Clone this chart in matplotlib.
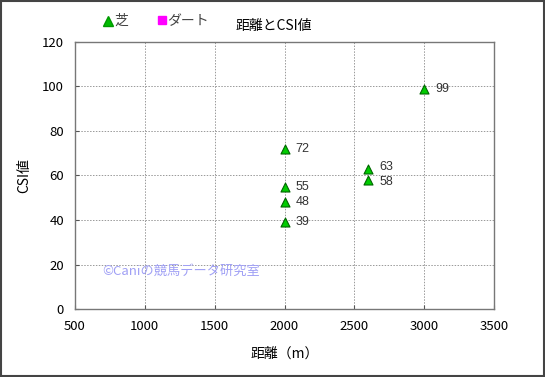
import matplotlib
matplotlib.use("Agg")
import matplotlib.pyplot as plt
from matplotlib.patches import Rectangle
from matplotlib.lines import Line2D

plt.rcParams['font.family'] = ['Noto Sans CJK JP', 'DejaVu Sans']

distance = [2000, 2000, 2000, 2000, 2600, 2600, 3000]
csi = [72, 55, 48, 39, 63, 58, 99]
labels = ["72", "55", "48", "39", "63", "58", "99"]
xticks = [500, 1000, 1500, 2000, 2500, 3000, 3500]
yticks = [0, 20, 40, 60, 80, 100, 120]

fig = plt.figure(figsize=(5.45, 3.77), dpi=100)
ax = fig.add_axes([0.1376, 0.180, 0.769, 0.709])

ax.scatter(distance, csi, marker='^', s=42, facecolor='#00cc00', edgecolor='#006600',
           linewidth=0.8, zorder=3, clip_on=False)
for i, (x, y, t) in enumerate(zip(distance, csi, labels)):
    dy = 0.0
    for j, (x2, y2) in enumerate(zip(distance, csi)):
        if j != i and x2 == x and abs(y2 - y) < 6:
            dy = 1.5 if y > y2 else -1.5
    ax.annotate(t, (x, y), xytext=(8, dy), textcoords='offset points', va='center',
                ha='left', fontsize=9, color='#333333', family=['Liberation Sans'])

ax.set_xlim(500, 3500)
ax.set_ylim(0, 120)
ax.set_xticks(xticks)
ax.set_yticks(yticks)
ax.grid(True, linestyle=(0, (1.5, 1.5)), color='#999999', linewidth=0.7)
ax.tick_params(length=3, labelsize=9.5, direction='in', colors='#555555', labelcolor='black')
ax.tick_params(axis='x', pad=8)
ax.tick_params(axis='y', pad=8)
for s in ax.spines.values():
    s.set_color('#777777')
    s.set_linewidth(1.0)
ax.set_xlabel('距離（m）', fontsize=10, labelpad=10)
ax.set_ylabel('CSI値', fontsize=10, labelpad=8)

ax.text(0.064, 0.14, '©Caniの競馬データ研究室', transform=ax.transAxes,
        fontsize=9.5, color='#a0a0f5', va='center', ha='left')

fig.text(0.433, 0.931, '距離とCSI値', fontsize=10, ha='left', va='center')
fig.add_artist(Line2D([0.199], [0.944], marker='^', markersize=6.5, color='#00bb00',
                      markeredgecolor='#009900', linestyle='none', transform=fig.transFigure))
fig.text(0.210, 0.944, '芝', fontsize=10, color='#444444', ha='left', va='center')
fig.add_artist(Line2D([0.297], [0.947], marker='s', markersize=6, color='#ff00ff',
                      linestyle='none', transform=fig.transFigure))
fig.text(0.307, 0.944, 'ダート', fontsize=10, color='#444444', ha='left', va='center')

fig.patches.append(Rectangle((0.002, 0.003), 0.996, 0.994, transform=fig.transFigure,
                             fill=False, edgecolor='#444444', linewidth=1.5))

fig.savefig('out.png', dpi=100)
